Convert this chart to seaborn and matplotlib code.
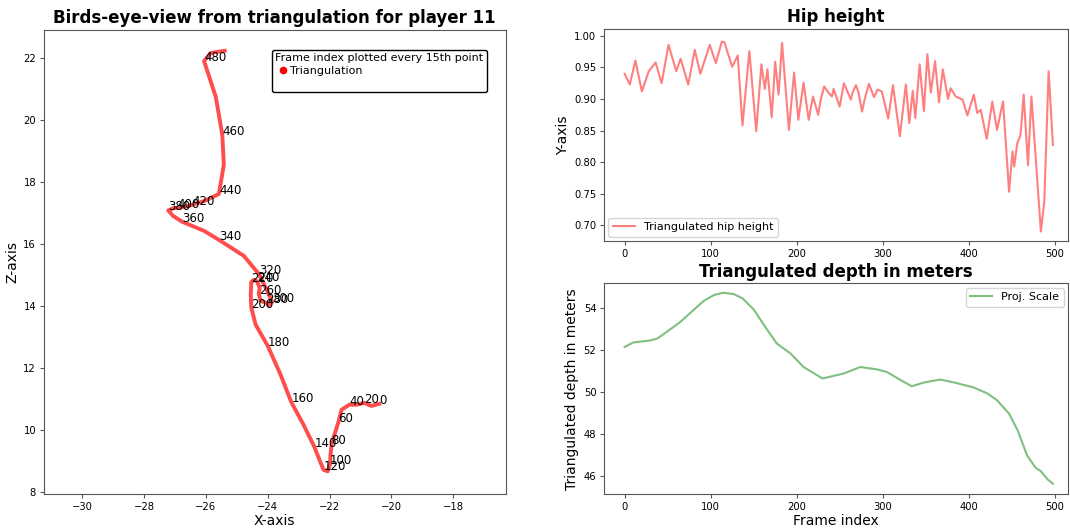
import numpy as np
import pandas as pd
import matplotlib
matplotlib.use("Agg")
import matplotlib.pyplot as plt
from matplotlib.lines import Line2D
import seaborn as sns

# ---------------- data ----------------
# bird's-eye trajectory (frame, X, Z)
traj_frames = [0, 10, 20, 30, 40, 50, 60, 70, 80, 90,
               100, 110, 120, 130, 140, 150, 160, 170, 180, 190,
               200, 210, 220, 230, 240, 250, 260, 270, 280, 290,
               300, 310, 320, 330, 340, 350, 360, 370, 380, 390,
               400, 410, 420, 430, 440, 450, 460, 470, 480, 490, 498]
traj_x = [-20.39, -20.65, -20.87, -21.13, -21.36, -21.61, -21.71, -21.81, -21.93, -21.97,
          -21.98, -22.06, -22.19, -22.29, -22.49, -22.84, -23.24, -23.58, -24.00, -24.39,
          -24.53, -24.55, -24.53, -24.45, -24.35, -24.26, -24.29, -24.23, -24.05, -23.97,
          -23.86, -24.03, -24.29, -24.77, -25.58, -26.06, -26.76, -27.06, -27.22, -27.05,
          -26.93, -26.71, -26.44, -26.03, -25.58, -25.42, -25.47, -25.68, -26.06, -25.84, -25.39]
traj_z = [10.84, 10.77, 10.87, 10.81, 10.81, 10.65, 10.26, 9.94, 9.55, 9.19,
          8.90, 8.66, 8.71, 8.94, 9.45, 10.16, 10.90, 11.77, 12.71, 13.39,
          13.94, 14.35, 14.77, 14.84, 14.80, 14.58, 14.39, 14.16, 14.10, 14.00,
          14.13, 14.52, 15.03, 15.61, 16.13, 16.42, 16.71, 16.90, 17.08, 17.15,
          17.16, 17.19, 17.26, 17.39, 17.61, 18.55, 19.52, 20.74, 21.90, 22.16, 22.23]
label_frames = [0, 20, 40, 60, 80, 100, 120, 140, 160, 180, 200, 220, 240,
                260, 280, 300, 320, 340, 360, 380, 400, 420, 440, 460, 480]

# hip height (frame, value) at turning points of the curve
hip_frames = [0, 6, 12.5, 20, 28, 36, 43, 51, 60, 65,
              74, 81.5, 88, 99, 106, 113, 116, 125, 131.5, 137,
              145, 153, 159, 163, 166, 171, 175, 179, 183, 191,
              197, 202, 208, 214, 219, 225, 228, 232, 237, 241,
              243, 250, 255, 263, 265, 269, 272, 276, 279, 284,
              290, 294, 299, 303, 306.5, 312, 320, 327, 331, 335,
              338, 343, 348, 352, 356, 361, 365.5, 370, 376, 379,
              385, 393, 398.5, 406, 410, 414, 421, 427.5, 433, 440,
              447, 451, 453, 456.5, 460, 461, 464, 469, 473, 484,
              488, 493, 498]
hip_values = [0.940, 0.923, 0.961, 0.912, 0.944, 0.958, 0.925, 0.986, 0.944, 0.964,
              0.923, 0.978, 0.940, 0.986, 0.957, 0.991, 0.990, 0.951, 0.969, 0.858,
              0.976, 0.849, 0.955, 0.916, 0.947, 0.871, 0.959, 0.907, 0.989, 0.851,
              0.942, 0.867, 0.926, 0.867, 0.904, 0.875, 0.899, 0.920, 0.910, 0.904,
              0.916, 0.888, 0.925, 0.899, 0.910, 0.922, 0.910, 0.880, 0.899, 0.924,
              0.903, 0.915, 0.912, 0.889, 0.869, 0.922, 0.841, 0.923, 0.862, 0.913,
              0.870, 0.955, 0.881, 0.971, 0.910, 0.960, 0.895, 0.947, 0.900, 0.917,
              0.904, 0.899, 0.874, 0.907, 0.878, 0.883, 0.837, 0.896, 0.851, 0.896,
              0.753, 0.817, 0.793, 0.830, 0.841, 0.854, 0.907, 0.795, 0.904, 0.690,
              0.738, 0.944, 0.827]

# triangulated depth (frame, metres)
depth_frames = [0, 10, 30, 38, 49, 65, 80, 92, 104, 115,
                127, 137, 150, 166, 177, 193, 208, 230, 255, 274,
                294, 305, 321, 334, 348, 367, 383, 406, 422, 433,
                447, 457, 468, 478, 484, 492, 498]
depth_values = [52.16, 52.37, 52.47, 52.56, 52.88, 53.36, 53.92, 54.36, 54.64, 54.75,
                54.68, 54.48, 53.95, 52.96, 52.32, 51.84, 51.20, 50.65, 50.89, 51.20,
                51.08, 50.96, 50.57, 50.28, 50.46, 50.60, 50.46, 50.22, 49.93, 49.61,
                48.97, 48.17, 46.97, 46.38, 46.22, 45.82, 45.62]

traj_df = pd.DataFrame({"frame": traj_frames, "X": traj_x, "Z": traj_z})
hip_df = pd.DataFrame({"frame": hip_frames, "hip": hip_values})
depth_df = pd.DataFrame({"frame": depth_frames, "depth": depth_values})

# ---------------- figure ----------------
fig = plt.figure(figsize=(10.7, 5.28), dpi=100)
ax0 = fig.add_axes([0.0408, 0.0644, 0.4318, 0.8788])
ax1 = fig.add_axes([0.5645, 0.5436, 0.4336, 0.4015])
ax2 = fig.add_axes([0.5645, 0.0644, 0.4336, 0.3987])

spine_col = "#555555"
for ax in (ax0, ax1, ax2):
    for s in ax.spines.values():
        s.set_color(spine_col)
    ax.tick_params(labelsize=7.2, color=spine_col, length=3, pad=2.5)

LAB = 10
TIT = 12

# left: bird's-eye trajectory
sns.lineplot(data=traj_df, x="X", y="Z", sort=False, estimator=None,
             color="red", alpha=0.7, linewidth=2.8, ax=ax0)
for f in label_frames:
    i = traj_frames.index(f)
    ax0.text(traj_x[i], traj_z[i], str(f), fontsize=8.5)
ax0.set_xlim(-31.25, -16.3)
ax0.set_ylim(7.93, 22.9)
ax0.set_xticks([-30, -28, -26, -24, -22, -20, -18])
ax0.set_yticks([8, 10, 12, 14, 16, 18, 20, 22])
ax0.set_xlabel("X-axis", fontsize=LAB, labelpad=2)
ax0.set_ylabel("Z-axis", fontsize=LAB, labelpad=3)
ax0.set_title("Birds-eye-view from triangulation for player 11",
              fontsize=TIT, fontweight="bold", pad=5)
handles = [Line2D([], [], marker="o", color="red", linestyle="none", markersize=4.5),
           Line2D([], [], linestyle="none")]
leg = ax0.legend(handles, ["Triangulation", " "],
                 title="Frame index plotted every 15th point", alignment="left",
                 loc="upper right", bbox_to_anchor=(0.959, 0.957), borderaxespad=0,
                 fontsize=8, title_fontsize=8, handlelength=1.3, handletextpad=0.05,
                 labelspacing=0.25, borderpad=0.3, fancybox=True, framealpha=1)
leg.get_frame().set_edgecolor("black")

# right top: hip height
sns.lineplot(data=hip_df, x="frame", y="hip", color="red", alpha=0.5,
             label="Triangulated hip height", ax=ax1)
ax1.set_xlim(-24, 515.5)
ax1.set_ylim(0.675, 1.011)
ax1.set_xlabel("")
ax1.set_ylabel("Y-axis", fontsize=LAB, labelpad=3)
ax1.set_title("Hip height", fontsize=TIT, fontweight="bold", pad=5)
ax1.set_xticks([0, 100, 200, 300, 400, 500])
ax1.legend(loc="lower left", fontsize=8, borderaxespad=0.4)

# right bottom: depth
sns.lineplot(data=depth_df, x="frame", y="depth", color="green", alpha=0.5,
             label="Proj. Scale", ax=ax2)
ax2.set_xlim(-24, 515.5)
ax2.set_ylim(45.13, 55.19)
ax2.set_xlabel("Frame index", fontsize=LAB, labelpad=2)
ax2.set_ylabel("Triangulated depth in meters", fontsize=LAB, labelpad=3)
ax2.set_title("Triangulated depth in meters", fontsize=TIT, fontweight="bold", pad=5)
ax2.set_xticks([0, 100, 200, 300, 400, 500])
ax2.set_yticks([46, 48, 50, 52, 54])
ax2.legend(loc="upper right", fontsize=8, borderaxespad=0.4)

fig.savefig("out.png", dpi=100)
